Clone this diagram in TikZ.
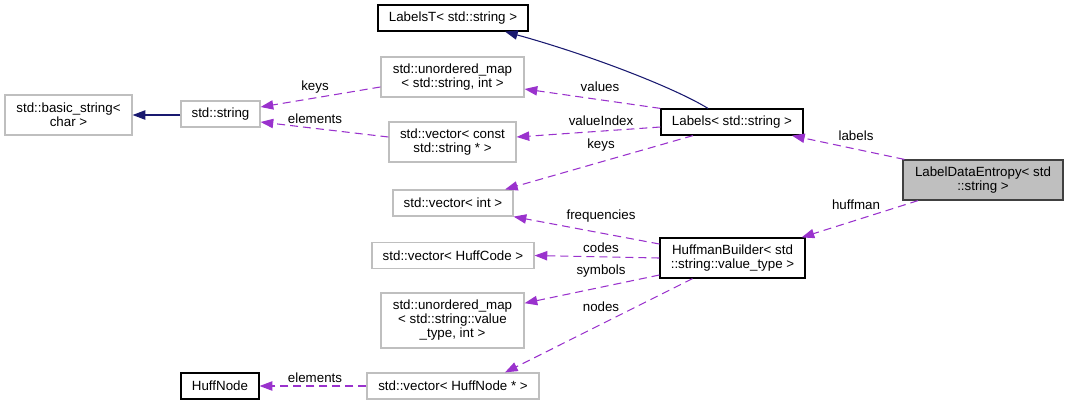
\documentclass[tikz,border=0pt]{standalone}
\usepackage{fontspec}
\setmainfont{Liberation Sans}
\usetikzlibrary{arrows.meta}
\definecolor{edgenavy}{HTML}{191970}
\definecolor{edgeorchid}{HTML}{9A32CD}
\definecolor{boxgray}{HTML}{BFBFBF}
\definecolor{boxdark}{HTML}{404040}
\newcommand{\doxfont}{\fontsize{10}{10.5}\selectfont}
\tikzset{
  cls/.style={draw=black, line width=0.9pt, fill=white, inner sep=0pt, align=center, font=\doxfont},
  ext/.style={cls, draw=boxgray},
  focus/.style={cls, draw=boxdark, fill=boxgray},
  inherit/.style={draw=edgenavy, line width=0.8pt, -{Triangle[length=9.5pt,width=7pt]}},
  usage/.style={draw=edgeorchid, line width=0.8pt, dash pattern=on 6pt off 3.75pt,
    -{Triangle[length=9.5pt,width=7pt,fill=edgeorchid]}},
  lbl/.style={font=\doxfont, inner sep=0pt}
}
\begin{document}
\begin{tikzpicture}[x=0.75pt, y=-0.75pt]
      \useasboundingbox (0,0) rectangle (1069,405);

      % classes
      \node[ext, minimum width=95.25pt, minimum height=30pt] (bstr) at (68.5,115) {std::basic\_string<\\char >};
      \node[ext, minimum width=59.25pt, minimum height=19.5pt] (str) at (220.5,114) {std::string};
      \node[cls, minimum width=112.5pt, minimum height=19.5pt] (labelst) at (453,18) {LabelsT< std::string >};
      \node[ext, minimum width=107.25pt, minimum height=30pt] (umapstr) at (452.5,77) {std::unordered\_map\\< std::string, int >};
      \node[ext, minimum width=95.25pt, minimum height=30pt] (vecstr) at (452.5,142) {std::vector< const\\std::string * >};
      \node[cls, minimum width=106.5pt, minimum height=19.5pt] (labels) at (732,122) {Labels< std::string >};
      \node[focus, minimum width=120pt, minimum height=30pt] (entropy) at (983,180) {LabelDataEntropy< std\\::string >};
      \node[ext, minimum width=90pt, minimum height=19.5pt] (vecint) at (453,203) {std::vector< int >};
      \node[ext, minimum width=121.5pt, minimum height=19pt] (veccode) at (453,255.5) {std::vector< HuffCode >};
      \node[cls, minimum width=108.75pt, minimum height=30pt] (hb) at (732.5,258) {HuffmanBuilder< std\\::string::value\_type >};
      \node[ext, minimum width=107.25pt, minimum height=41.25pt] (umapval) at (452.5,320.5) {std::unordered\_map\\< std::string::value\\\_type, int >};
      \node[ext, minimum width=129pt, minimum height=19.5pt] (vecnode) at (453,386) {std::vector< HuffNode * >};
      \node[cls, minimum width=58.5pt, minimum height=19.5pt] (huffnode) at (220,386) {HuffNode};

      % inheritance
      \draw[inherit] ([yshift=-0.75pt]str.west) -- (bstr.east);
      \draw[inherit] ([xshift=-18pt]labels.north) .. controls (675,88) and (590,55) .. ([xshift=39pt]labelst.south);

      % members
      \draw[usage] ([yshift=-7.5pt]umapstr.west) -- ([yshift=5.25pt]str.east);
      \draw[usage] ([yshift=3.75pt]vecstr.west) -- ([yshift=-6pt]str.east);
      \draw[usage] (labels.north west) -- ([yshift=-9pt]umapstr.east);
      \draw[usage] ([yshift=-3.75pt]labels.west) -- ([yshift=3.75pt]vecstr.east);
      \draw[usage] ([xshift=-29.25pt]labels.south) -- ([xshift=39pt]vecint.north);
      \draw[usage] ([xshift=1.5pt]entropy.north west) -- ([xshift=45pt]labels.south);
      \draw[usage] ([xshift=-48.75pt]entropy.south) -- ([xshift=-3pt]hb.north east);
      \draw[usage] ([yshift=10.5pt]hb.west) -- (vecint.south east);
      \draw[usage] (hb.west) -- (veccode.east);
      \draw[usage] ([yshift=-12.75pt]hb.west) -- ([yshift=13pt]umapval.east);
      \draw[usage] ([xshift=-30pt]hb.south) -- ([xshift=39pt]vecnode.north);
      \draw[usage] (vecnode.west) -- (huffnode.east);

      % edge labels
      \node[lbl] (lkeys) at (315,87) {keys};
      \node[lbl] (lelem) at (315,119) {elements};
      \node[lbl] (lvalues) at (600,87) {values};
      \node[lbl] (lindex) at (601,121) {valueIndex};
      \node[lbl] (lkeys2) at (601,145) {keys};
      \node[lbl] (llabels) at (856,136) {labels};
      \node[lbl] (lhuff) at (856,205) {huffman};
      \node[lbl] (lfreq) at (601,216) {frequencies};
      \node[lbl] (lcodes) at (601,248) {codes};
      \node[lbl] (lsym) at (601,271) {symbols};
      \node[lbl] (lnodes) at (601,307) {nodes};
      \node[lbl] (lelem2) at (315,378) {elements};
\end{tikzpicture}
\end{document}
